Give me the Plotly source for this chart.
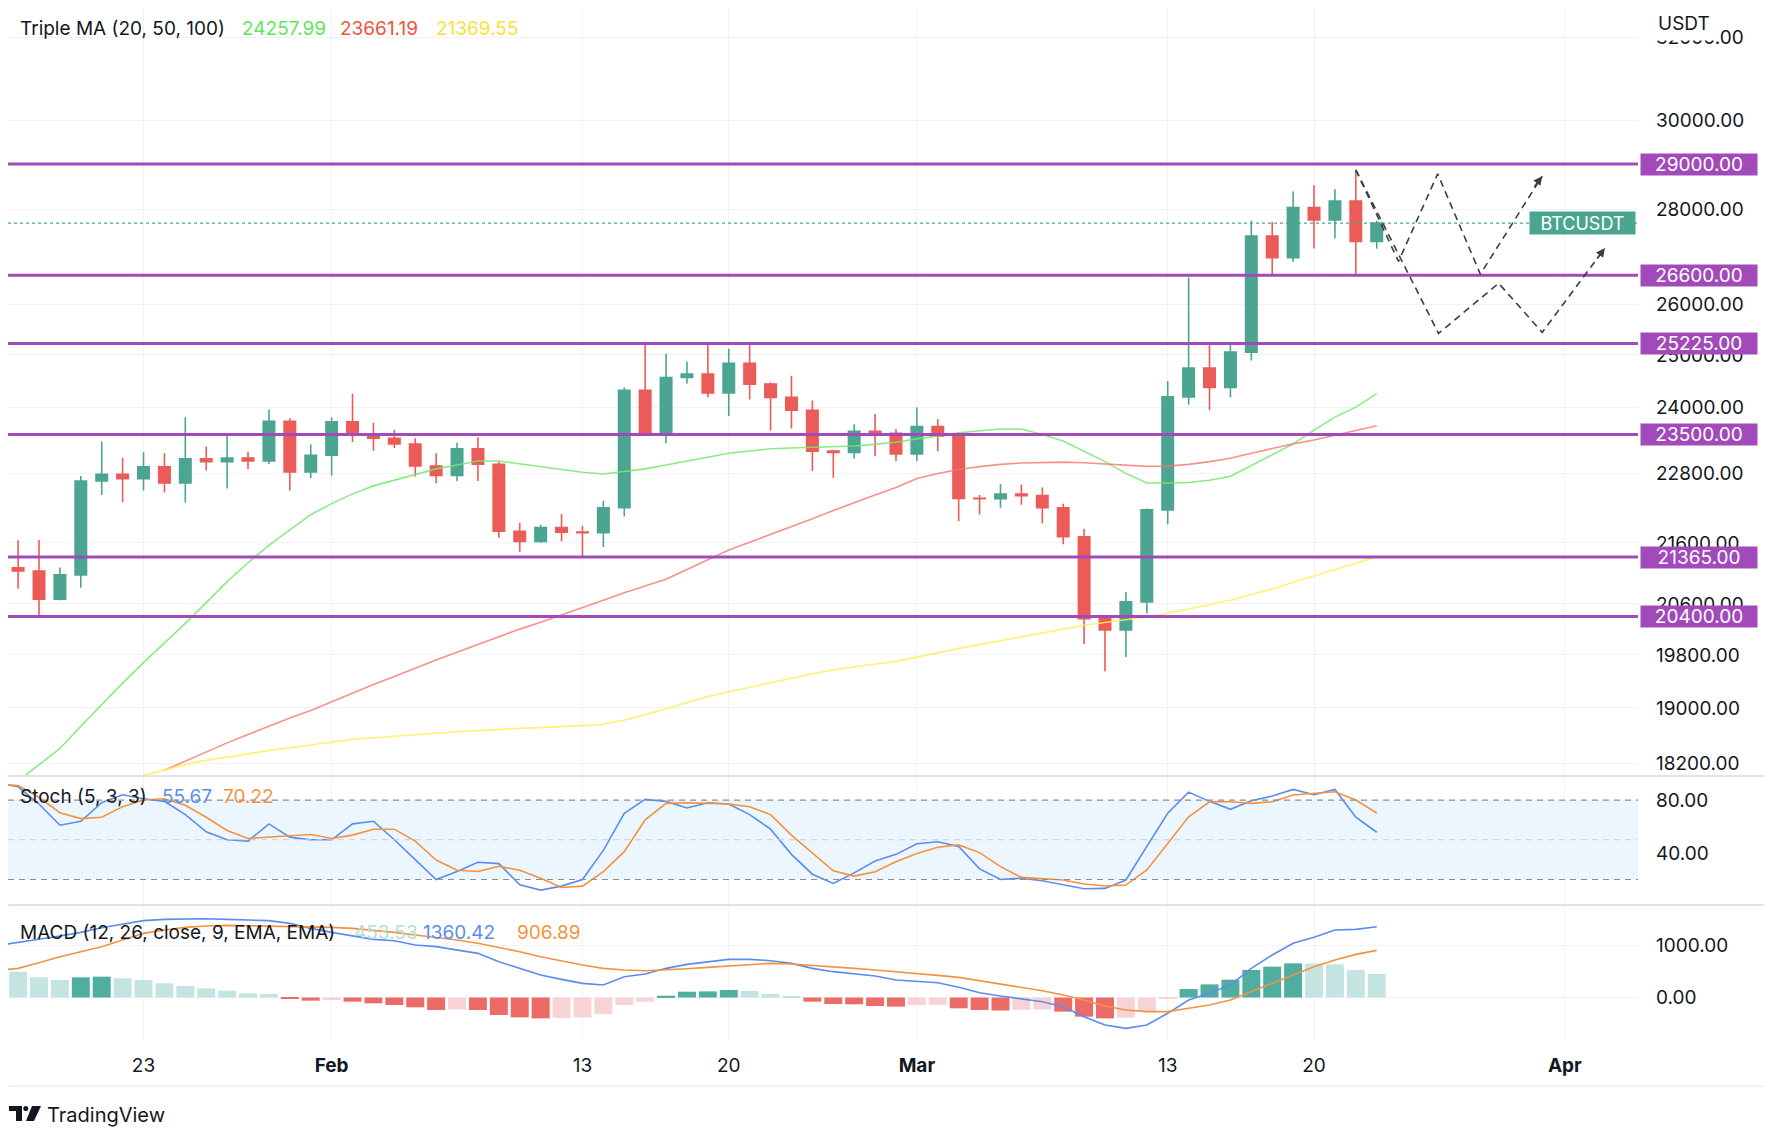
import math
import pandas as pd
import plotly.graph_objects as go

W, H = 1772, 1138
OFF = 8  # the page body keeps an 8px margin, so the figure is drawn from (8, 8)
WF, HF = W - OFF, H - OFF

# ---------------- data ----------------
candle_start = "2023-01-16"
opens = [20872, 21185, 21133, 20677, 21071, 22667, 22783, 22707, 22916, 22632, 23060, 23009, 23074, 23022, 23743, 22827,
         23125, 23733, 23490, 23431, 23326, 22932, 22762, 23240, 22963, 21796, 21625, 21862, 21783, 21773, 22199, 24324,
         23538, 24566, 24631, 24271, 24837, 24439, 24188, 23947, 23198, 23175, 23561, 23522,
         23147, 23646, 23475, 22362, 22354, 22436, 22409, 22198, 21705, 20363, 20187, 20633, 22163, 24197, 24746, 24375,
         25055, 27423, 26966, 28038, 27767, 28175, 27307]
highs = [21466, 21647, 21650, 21192, 22755, 23371, 23078, 23180, 23162, 23816, 23282, 23500, 23189, 23960, 23800, 23320,
         23812, 24255, 23715, 23587, 23433, 23158, 23350, 23452, 23011, 21938, 21906, 22090, 21890, 22319, 24380, 25250,
         25022, 24873, 25192, 25121, 25250, 24476, 24600, 24132, 23219, 23689, 23880, 23600,
         24000, 23780, 23479, 22420, 22613, 22605, 22551, 22267, 21834, 20374, 20792, 22185, 24500, 26553, 25250, 25200,
         27756, 27725, 28390, 28528, 28438, 28868, 27750]
lows = [20600, 20850, 20407, 20659, 20861, 22422, 22293, 22500, 22462, 22292, 22850, 22534, 22878, 22967, 22500, 22714,
        22760, 23363, 23204, 23253, 22745, 22628, 22666, 22665, 21688, 21451, 21599, 21630, 21351, 21532, 22047, 23505,
        23339, 24450, 24192, 23840, 24148, 23574, 23608, 22841, 22722, 23068, 23106, 23020,
        23020, 23195, 21971, 22085, 22198, 22250, 21927, 21580, 19966, 19549, 19765, 20447, 21918, 24050, 23946, 24192,
        24890, 26578, 26880, 27156, 27370, 26601, 27150]
closes = [21185, 21133, 20677, 21071, 22667, 22783, 22707, 22916, 22632, 23060, 23009, 23074, 23022, 23743, 22827, 23125,
          23733, 23490, 23431, 23326, 22932, 22762, 23240, 22963, 21796, 21625, 21862, 21783, 21773, 22199, 24324, 23538,
          24566, 24631, 24271, 24837, 24439, 24188, 23947, 23198, 23175, 23561, 23522, 23147,
          23646, 23475, 22362, 22354, 22436, 22409, 22198, 21705, 20363, 20187, 20633, 22163, 24197, 24746, 24375, 25055,
          27423, 26966, 28038, 27767, 28175, 27307, 27700]

ma20_start = "2023-01-17"
ma20 = [17950, 18180, 18410, 18730, 19050, 19370, 19680, 19980, 20290, 20620, 20960, 21270, 21560, 21820, 22080, 22270,
        22440, 22580, 22680, 22780, 22880, 22950, 23020, 23020, 22970, 22920, 22870, 22820, 22790, 22830, 22880, 22950,
        23020, 23100, 23160, 23200, 23240, 23255, 23265, 23270, 23290, 23320, 23360, 23420, 23480, 23530, 23570, 23600,
        23600, 23500, 23380, 23200, 23010, 22800, 22630, 22630, 22640, 22680, 22750, 22940, 23135, 23330, 23580, 23820,
        24005, 24257.99]
ma50_start = "2023-01-24"
ma50 = [18100, 18230, 18360, 18490, 18610, 18730, 18850, 18960, 19090, 19220, 19350, 19470, 19600, 19720, 19840, 19960,
        20080, 20200, 20310, 20430, 20550, 20660, 20780, 20890, 21000, 21160, 21320, 21480, 21610, 21740, 21870, 22010,
        22150, 22290, 22420, 22550, 22710, 22800, 22870, 22920, 22960, 22985, 22995, 23000, 22990, 22970, 22945, 22925,
        22930, 22960, 23010, 23070, 23160, 23250, 23330, 23400, 23490, 23580, 23661.19]
ma100_start = "2023-01-23"
ma100 = [18030, 18110, 18180, 18240, 18290, 18340, 18380, 18420, 18460, 18500, 18540, 18565, 18590, 18610, 18630, 18650,
         18670, 18680, 18700, 18710, 18720, 18740, 18760, 18820, 18900, 18990, 19080, 19170, 19240, 19310, 19380, 19450,
         19510, 19570, 19620, 19660, 19700, 19760, 19830, 19900, 19960, 20030, 20090, 20150, 20200, 20260, 20300, 20340,
         20390, 20450, 20520, 20590, 20660, 20750, 20840, 20950, 21060, 21160, 21260, 21369.55]

osc_start = "2023-01-16"
stoch_k = [93, 90, 77, 61, 64, 78, 84, 81, 79, 69, 56, 50, 49, 62, 52, 50, 50, 62, 64, 50, 35, 20, 26, 33, 32, 16, 12, 15,
           20, 42, 70, 80.5, 79, 74, 78, 77, 69, 58, 39, 24, 17, 25, 34, 39, 47, 48.5, 45, 28, 20, 21, 19, 16, 13, 13.3,
           19.6, 45, 70, 86, 79, 73, 79.5, 83, 88, 84, 88, 67, 55.67]
stoch_d = [92, 91, 82, 70.4, 66, 67, 75, 80, 81, 76, 67, 57, 51, 52, 53.5, 54, 51, 53.5, 58, 58, 49, 34.7, 27, 26, 30, 27,
           21, 14, 15, 26, 41, 65, 77.5, 78, 77.5, 77, 75, 69, 53.5, 40, 26.6, 22.6, 25.9, 33.4, 39.7, 44.3, 46.1, 40.3,
           29.7, 21.6, 20.6, 19.6, 16.6, 15.1, 15.8, 27.2, 47.2, 67.4, 78.7, 78.7, 77.5, 78.7, 83.8, 85, 86.3, 80, 70.22]
macd_line = [1000, 1054, 1119, 1183, 1253, 1343, 1413, 1478, 1503, 1516, 1516, 1503, 1490, 1478, 1426, 1330, 1253, 1183,
             1119, 1093, 1010, 978, 913, 849, 689, 561, 433, 349, 272, 240, 401, 452, 561, 638, 689, 734, 734, 708, 657,
             561, 497, 452, 413, 337, 317, 285, 196, 93, 29, -29, -80, -176, -369, -529, -593, -529, -304, -48, 80, 240,
             561, 817, 1042, 1157, 1298, 1311, 1360.42]
signal_line = [520, 561, 670, 785, 881, 978, 1106, 1234, 1298, 1349, 1375, 1388, 1381, 1375, 1369, 1362, 1349, 1330, 1298,
               1253, 1202, 1157, 1106, 1042, 965, 881, 785, 702, 625, 561, 529, 516, 529, 554, 580, 606, 638, 657, 644,
               619, 593, 561, 529, 490, 465, 426, 388, 324, 260, 196, 131, 48, -48, -163, -240, -272, -272, -208, -144,
               -48, 112, 272, 433, 593, 721, 830, 906.89]
histogram = [520, 497, 388, 337, 388, 401, 369, 337, 273, 221, 176, 131, 80, 67, -29, -61, -48, -80, -112, -144, -189,
             -240, -228, -240, -336, -381, -401, -395, -381, -317, -144, -80, 35, 112, 118, 144, 125, 67, 29, -80, -125,
             -131, -163, -176, -144, -140, -208, -240, -250, -237, -230, -272, -369, -401, -388, -265, -25, 163, 253,
             343, 529, 593, 657, 652, 638, 529, 453.53]

levels = [29000, 26600, 25225, 23500, 21365, 20400]
price_ticks = [18200, 19000, 19800, 20600, 21600, 22800, 24000, 25000, 26000, 28000, 30000, 32000]
stoch_ticks = [40, 80]
macd_ticks = [0, 1000]
date_ticks = ["2023-01-23", "2023-02-01", "2023-02-13", "2023-02-20", "2023-03-01", "2023-03-13", "2023-03-20", "2023-04-01"]
date_labels = ["23", "<b>Feb</b>", "13", "20", "<b>Mar</b>", "13", "20", "<b>Apr</b>"]

zig1_x = ["2023-03-22 00:00", "2023-03-24 01:00", "2023-03-25 22:00", "2023-03-27 23:00", "2023-03-30 22:00"]
zig1_y = [28868, 26885, 28780, 26620, 28728]
zig2_x = ["2023-03-22 00:00", "2023-03-25 23:00", "2023-03-28 20:00", "2023-03-30 22:00", "2023-04-02 22:00"]
zig2_y = [28868, 25422, 26433, 25442, 27165]

# ---------------- styling ----------------
FONT = "Inter"
TXT = "#131722"
UP, DOWN = "#4ba591", "#eb5b57"
PURPLE = "#a24ab9"
BLUE, ORANGE = "#5b8def", "#f5923e"
GRID = "#f1f2f6"
X_RANGE = ["2023-01-16 12:24", "2023-04-04 12:00"]
FS = 19

dates = pd.date_range(candle_start, periods=len(opens), freq="D")
d_ma20 = pd.date_range(ma20_start, periods=len(ma20), freq="D")
d_ma50 = pd.date_range(ma50_start, periods=len(ma50), freq="D")
d_ma100 = pd.date_range(ma100_start, periods=len(ma100), freq="D")
d_osc = pd.date_range(osc_start, periods=len(stoch_k), freq="D")


def px_x(p):
    return (p - OFF) / WF


def px_y(p):
    return 1 - (p - OFF) / HF


fig = go.Figure()

fig.add_trace(go.Scatter(x=d_ma20, y=ma20, mode="lines", line=dict(color="rgba(120,230,110,0.85)", width=1.6),
                         xaxis="x", yaxis="y", hoverinfo="skip"))
fig.add_trace(go.Scatter(x=d_ma50, y=ma50, mode="lines", line=dict(color="rgba(240,120,110,0.8)", width=1.6),
                         xaxis="x", yaxis="y", hoverinfo="skip"))
fig.add_trace(go.Scatter(x=d_ma100, y=ma100, mode="lines", line=dict(color="rgba(255,238,90,0.85)", width=1.6),
                         xaxis="x", yaxis="y", hoverinfo="skip"))
fig.add_trace(go.Scatter(x=X_RANGE, y=[closes[-1], closes[-1]], mode="lines",
                         line=dict(color=UP, width=1.2, dash="dot"), xaxis="x", yaxis="y", hoverinfo="skip"))
fig.add_trace(go.Candlestick(x=dates, open=opens, high=highs, low=lows, close=closes,
                             increasing=dict(line=dict(color=UP, width=1.6), fillcolor=UP),
                             decreasing=dict(line=dict(color=DOWN, width=1.6), fillcolor=DOWN),
                             xaxis="x", yaxis="y", hoverinfo="skip"))
for lv in levels:
    fig.add_trace(go.Scatter(x=X_RANGE, y=[lv, lv], mode="lines", line=dict(color=PURPLE, width=3),
                             xaxis="x", yaxis="y", hoverinfo="skip"))
for zx, zy in ((zig1_x, zig1_y), (zig2_x, zig2_y)):
    fig.add_trace(go.Scatter(x=zx, y=zy, mode="lines", line=dict(color="#3b3e48", width=1.6, dash="7px,5px"),
                             xaxis="x", yaxis="y", hoverinfo="skip"))

fig.add_trace(go.Scatter(x=d_osc, y=stoch_k, mode="lines", line=dict(color=BLUE, width=1.6), xaxis="x2", yaxis="y2"))
fig.add_trace(go.Scatter(x=d_osc, y=stoch_d, mode="lines", line=dict(color=ORANGE, width=1.6), xaxis="x2", yaxis="y2"))

hist_colors = []
for i, h in enumerate(histogram):
    prev = histogram[i - 1] if i > 0 else h - 1
    if h >= 0:
        hist_colors.append("#4fae9f" if h > prev else "#c3e4e0")
    else:
        hist_colors.append("#f8d3d6" if h > prev else "#ed6b66")
fig.add_trace(go.Bar(x=d_osc, y=histogram, marker=dict(color=hist_colors, line=dict(width=0)),
                     width=0.86 * 86400000, xaxis="x3", yaxis="y3"))
fig.add_trace(go.Scatter(x=d_osc, y=macd_line, mode="lines", line=dict(color=BLUE, width=1.6), xaxis="x3", yaxis="y3"))
fig.add_trace(go.Scatter(x=d_osc, y=signal_line, mode="lines", line=dict(color=ORANGE, width=1.6), xaxis="x3", yaxis="y3"))

XDOM = [px_x(OFF), px_x(1638)]
common_x = dict(domain=XDOM, range=X_RANGE, type="date", tickvals=date_ticks, ticktext=date_labels,
                showgrid=True, gridcolor=GRID, gridwidth=1, zeroline=False, showline=False, fixedrange=True)
yfont = dict(family=FONT, size=FS, color=TXT)

fig.update_layout(
    width=WF, height=HF, margin=dict(l=0, r=0, t=0, b=0),
    paper_bgcolor="white", plot_bgcolor="white", showlegend=False,
    bargap=0.1, boxgap=0.22,
    xaxis=dict(common_x, anchor="y", showticklabels=False, rangeslider=dict(visible=False)),
    xaxis2=dict(common_x, anchor="y2", showticklabels=False, matches="x"),
    xaxis3=dict(common_x, anchor="y3", showticklabels=True, matches="x", ticks="",
                tickfont=dict(family=FONT, size=FS, color=TXT), ticklabelstandoff=12),
    yaxis=dict(domain=[px_y(775), px_y(OFF)], type="log",
               range=[math.log10(18034), math.log10(32904 * 0.99505)],
               side="right", anchor="x", tickvals=price_ticks, ticktext=[f"{v:.2f}" for v in price_ticks],
               tickfont=yfont, showgrid=True, gridcolor=GRID, zeroline=False, ticklabelstandoff=17),
    yaxis2=dict(domain=[px_y(904), px_y(777)], range=[1.5, 97.4], side="right", anchor="x2",
                tickvals=stoch_ticks, ticktext=[f"{v:.2f}" for v in stoch_ticks], tickfont=yfont,
                showgrid=True, gridcolor=GRID, zeroline=False, ticklabelstandoff=17),
    yaxis3=dict(domain=[px_y(1040), px_y(906)], range=[-817, 1760], side="right", anchor="x3",
                tickvals=macd_ticks, ticktext=[f"{v:.2f}" for v in macd_ticks], tickfont=yfont,
                showgrid=True, gridcolor=GRID, zeroline=False, ticklabelstandoff=17),
)

shapes = []
shapes.append(dict(type="rect", xref="paper", yref="y2", x0=XDOM[0], x1=XDOM[1], y0=20, y1=80,
                   fillcolor="rgba(33,150,243,0.09)", line=dict(width=0), layer="below"))
for lv, col in ((80, "#8b8e97"), (50, "#c9cbd1"), (20, "#8b8e97")):
    shapes.append(dict(type="line", xref="paper", yref="y2", x0=XDOM[0], x1=XDOM[1], y0=lv, y1=lv,
                       line=dict(color=col, width=1.2, dash="6px,5px")))
shapes.append(dict(type="line", xref="paper", yref="y3", x0=XDOM[0], x1=XDOM[1], y0=0, y1=0,
                   line=dict(color="#c5c8cf", width=1.2, dash="6px,5px"), layer="below"))
for yy in (776, 905):
    shapes.append(dict(type="line", xref="paper", yref="paper", x0=0, x1=px_x(1767), y0=px_y(yy), y1=px_y(yy),
                       line=dict(color="#e0e3eb", width=2)))
shapes.append(dict(type="line", xref="paper", yref="paper", x0=0, x1=px_x(1767), y0=px_y(1086), y1=px_y(1086),
                   line=dict(color="#e6e8ee", width=1)))
shapes.append(dict(type="line", xref="paper", yref="paper", x0=px_x(1767), x1=px_x(1767), y0=px_y(1086), y1=1,
                   line=dict(color="#eceef2", width=1)))
# TradingView logo glyph
shapes.append(dict(type="path", xref="paper", yref="paper", fillcolor=TXT, line=dict(width=0),
                   path=f"M {px_x(9)},{px_y(1106)} L {px_x(22)},{px_y(1106)} L {px_x(22)},{px_y(1121)} "
                        f"L {px_x(16)},{px_y(1121)} L {px_x(16)},{px_y(1111)} L {px_x(9)},{px_y(1111)} Z"))
shapes.append(dict(type="circle", xref="paper", yref="paper", fillcolor=TXT, line=dict(width=0),
                   x0=px_x(23.3), x1=px_x(28.3), y0=px_y(1111), y1=px_y(1106)))
shapes.append(dict(type="path", xref="paper", yref="paper", fillcolor=TXT, line=dict(width=0),
                   path=f"M {px_x(32)},{px_y(1106)} L {px_x(41)},{px_y(1106)} L {px_x(34)},{px_y(1121)} "
                        f"L {px_x(26)},{px_y(1121)} Z"))
fig.update_layout(shapes=shapes)

ann = []


def label(text, x, y, color=TXT, size=FS, anchor="left", **kw):
    ann.append(dict(text=text, x=px_x(x), y=px_y(y), xref="paper", yref="paper", showarrow=False,
                    xanchor=anchor, yanchor="middle", font=dict(family=FONT, size=size, color=color), **kw))


label("Triple MA (20, 50, 100)", 18, 28)
label("24257.99", 240, 28, "#5fe65a")
label("23661.19", 338, 28, "#f0533f")
label("21369.55", 434, 28, "#f5e23c")
label("Stoch (5, 3, 3)", 18, 796)
label("55.67", 160, 796, BLUE)
label("70.22", 221, 796, ORANGE)
label("MACD (12, 26, close, 9, EMA, EMA)", 18, 932)
label("453.53", 352, 932, "#b5ddd9")
label("1360.42", 421, 932, BLUE)
label("906.89", 515, 932, ORANGE)
label("USDT", 1652, 23, bgcolor="white", borderpad=5)
label("TradingView", 45, 1115, size=20)

for lv in levels:
    ann.append(dict(text=f"{lv:.2f}", x=px_x(1640), y=math.log10(lv), xref="paper", yref="y", showarrow=False,
                    xanchor="left", yanchor="middle", align="center", width=114, height=19, borderpad=1,
                    bgcolor=PURPLE, font=dict(family=FONT, size=FS, color="white")))
ann.append(dict(text="BTCUSDT", x=px_x(1636), y=math.log10(closes[-1]), xref="paper", yref="y", showarrow=False,
                xanchor="right", yanchor="middle", align="center", width=103, height=20, borderpad=1,
                bgcolor=UP, font=dict(family=FONT, size=FS - 1, color="white")))
for zx, zy in ((zig1_x, zig1_y), (zig2_x, zig2_y)):
    ann.append(dict(x=zx[-1], y=math.log10(zy[-1]), xref="x", yref="y", ax=-9, ay=12, axref="pixel", ayref="pixel",
                    text="", showarrow=True, arrowhead=2, arrowsize=1.1, arrowwidth=1.6, arrowcolor="#3b3e48"))
fig.update_layout(annotations=ann)

fig.write_html("out.html")
